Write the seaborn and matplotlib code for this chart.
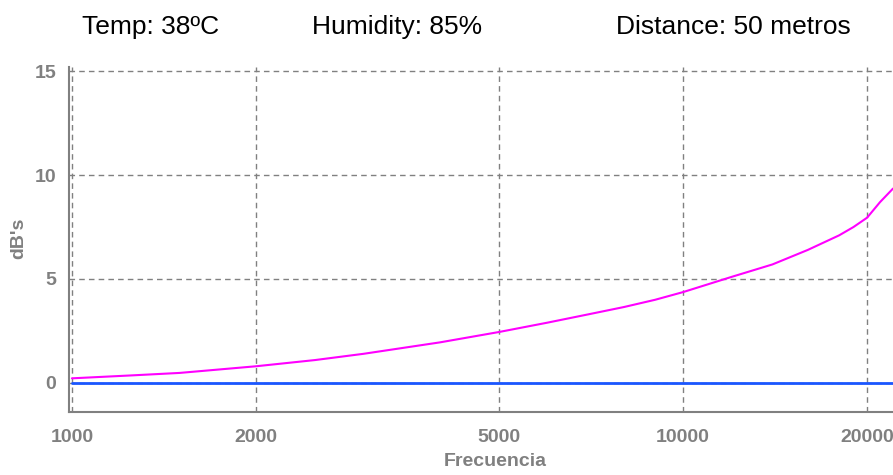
import pandas as pd
import seaborn as sns
import matplotlib.pyplot as plt
from matplotlib.ticker import FixedLocator, FixedFormatter, NullLocator

# datos
freq = [1000, 1250, 1500, 2000, 2500, 3000, 4000, 5000, 6000, 7000, 8000,
        9000, 10000, 12000, 14000, 16000, 18000, 19000, 20000, 21000, 22050]
atten = [0.22, 0.36, 0.48, 0.80, 1.10, 1.40, 1.95, 2.45, 2.90, 3.30, 3.65,
         4.00, 4.37, 5.10, 5.70, 6.40, 7.10, 7.50, 7.95, 8.70, 9.35]
ref = [0.0] * len(freq)

x_ticks = [1000, 2000, 5000, 10000, 20000]
x_labels = ["1000", "2000", "5000", "10000", "20000"]
y_ticks = [0, 5, 10, 15]
header = ["Temp: 38ºC", "Humidity: 85%", "Distance: 50 metros"]

df = pd.DataFrame({"Frecuencia": freq, "dB": atten, "ref": ref})

sns.set_style("white")
plt.rcParams['font.family'] = ['Liberation Sans', 'DejaVu Sans']

fig = plt.figure(figsize=(8.93, 4.75), dpi=100)
ax = fig.add_axes([69 / 893, 1 - 412 / 475, 1 - 69 / 893, (412 - 67) / 475])

grey = "#808080"
sns.lineplot(data=df, x="Frecuencia", y="ref", ax=ax, color="#1a56ff", lw=2)
sns.lineplot(data=df, x="Frecuencia", y="dB", ax=ax, color="#ff00ff", lw=1.5)

ax.set_xscale("log")
ax.set_xlim(989, 22050)
ax.set_ylim(-1.4, 15.2)
ax.xaxis.set_major_locator(FixedLocator(x_ticks))
ax.xaxis.set_major_formatter(FixedFormatter(x_labels))
ax.xaxis.set_minor_locator(NullLocator())
ax.set_yticks(y_ticks)

ax.grid(True, color=grey, ls=(0, (4, 3)), lw=1)
ax.set_axisbelow(True)
for s in ["top", "right"]:
    ax.spines[s].set_visible(False)
for s in ["left", "bottom"]:
    ax.spines[s].set_color(grey)
    ax.spines[s].set_linewidth(1.5)

ax.tick_params(axis="both", colors=grey, length=5, width=1, labelsize=14)
ax.tick_params(axis="x", pad=7)
ax.tick_params(axis="y", pad=4)
for lab in ax.get_xticklabels() + ax.get_yticklabels():
    lab.set_fontweight("bold")

ax.set_xlabel("Frecuencia", color=grey, fontsize=14, fontweight="bold")
ax.set_ylabel("dB's", color=grey, fontsize=14, fontweight="bold")
ax.xaxis.set_label_coords((495 - 69) / 824, -(462 - 412) / 345)
ax.yaxis.set_label_coords(-(69 - 19) / 824, (412 - 238) / 345)
ax.xaxis.label.set_va("center")
ax.yaxis.label.set_va("center")

for txt, xc in zip(header, [151, 397, 733]):
    fig.text(xc / 893, 1 - 27 / 475, txt, ha="center", va="center",
             fontsize=19, color="black")

fig.savefig("out.png", dpi=100)
